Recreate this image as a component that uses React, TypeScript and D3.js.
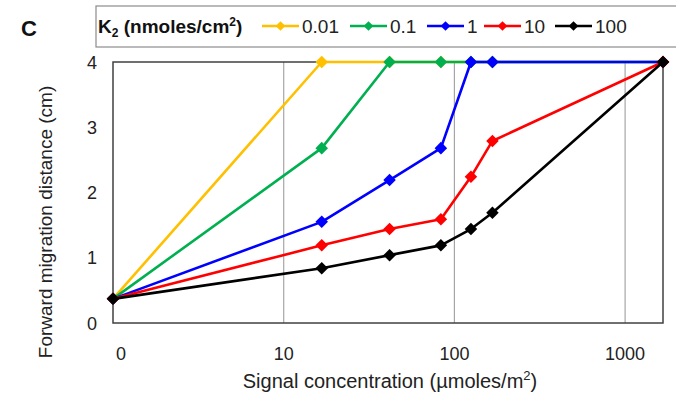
import * as d3 from "d3";

// signal concentration 0 is drawn at 1 on the log axis
const concentrations = [0, 16.7, 41.7, 83.3, 125, 167, 1667];
const seriesNames = ["0.01", "0.1", "1", "10", "100"];
const seriesColors = ["#FFC000", "#00B050", "#0000FF", "#FF0000", "#000000"];
const k001 = [0.37, 4, 4, 4, 4, 4, 4];
const k01 = [0.37, 2.68, 4, 4, 4, 4, 4];
const k1 = [0.37, 1.55, 2.19, 2.68, 4, 4, 4];
const k10 = [0.37, 1.19, 1.44, 1.59, 2.24, 2.79, 4];
const k100 = [0.37, 0.84, 1.04, 1.19, 1.44, 1.69, 4];
const seriesValues = [k001, k01, k1, k10, k100];
const xTickValues = [1, 10, 100, 1000];
const xTickLabels = ["0", "10", "100", "1000"];
const yTicks = [0, 1, 2, 3, 4];

const W = 676;
const H = 396;
const plot = { left: 113, right: 663, top: 62, bottom: 323 };
const font = "'Liberation Sans', Arial, sans-serif";

const diamond = d3.symbol().type(d3.symbolDiamond2).size(100);
const legendDiamond = d3.symbol().type(d3.symbolDiamond2).size(60);

const App = () => {
  const x = d3
    .scaleLog()
    .domain([1, 1667])
    .range([plot.left, plot.right]);
  const y = d3.scaleLinear().domain([0, 4]).range([plot.bottom, plot.top]);
  const xv = (c: number) => x(c === 0 ? 1 : c);

  const line = d3
    .line<number>()
    .x((_, i) => xv(concentrations[i]))
    .y((d) => y(d));

  // legend line start positions
  const legendItems = [262, 350, 427, 484, 555];

  return (
    <svg width={W} height={H} style={{ position: "absolute", left: 0, top: 0 }}>
      <rect width={W} height={H} fill="#fff" />
      <text x={21} y={36} fontFamily={font} fontWeight="bold" fontSize={22} fill="#111">
        C
      </text>

      {/* legend box */}
      <rect x={96} y={6} width={600} height={41} fill="#fff" stroke="#8c8c8c" strokeWidth={1.2} />
      <text x={98} y={33} fontFamily={font} fontWeight="bold" fontSize={19} fill="#111">
        K<tspan fontSize={12} dy={4}>2</tspan>
        <tspan dy={-4}> (nmoles/cm</tspan>
        <tspan fontSize={12} dy={-7}>2</tspan>
        <tspan dy={7}>)</tspan>
      </text>
      {seriesNames.map((n, i) => {
        const lx = legendItems[i];
        return (
          <g key={n}>
            <line x1={lx} x2={lx + 37} y1={26} y2={26} stroke={seriesColors[i]} strokeWidth={2.5} />
            <path d={legendDiamond()!} transform={`translate(${lx + 18.5},26)`} fill={seriesColors[i]} />
            <text x={lx + 40} y={33} fontFamily={font} fontSize={19} fill="#222">
              {n}
            </text>
          </g>
        );
      })}

      {/* grid */}
      {xTickValues.slice(1).map((t) => (
        <line key={t} x1={x(t)} x2={x(t)} y1={plot.top} y2={plot.bottom} stroke="#a6a6a6" strokeWidth={1.2} />
      ))}
      <rect
        x={plot.left}
        y={plot.top}
        width={plot.right - plot.left}
        height={plot.bottom - plot.top}
        fill="none"
        stroke="#404040"
        strokeWidth={1.5}
      />

      {/* y ticks */}
      {yTicks.map((t) => (
        <text key={t} x={97} y={y(t) + 6.5} textAnchor="end" fontFamily={font} fontSize={18} fill="#222">
          {t}
        </text>
      ))}
      {/* x ticks */}
      {xTickValues.map((t, i) => (
        <text
          key={t}
          x={x(t) + (i === 0 ? 8 : 0)}
          y={360}
          textAnchor="middle"
          fontFamily={font}
          fontSize={18}
          fill="#222"
        >
          {xTickLabels[i]}
        </text>
      ))}

      {/* series */}
      {seriesValues.map((vals, si) => (
        <g key={si}>
          <path d={line(vals)!} fill="none" stroke={seriesColors[si]} strokeWidth={2.6} strokeLinejoin="round" />
          {vals.map((v, i) => (
            <path
              key={i}
              d={diamond()!}
              transform={`translate(${xv(concentrations[i])},${y(v)})`}
              fill={seriesColors[si]}
            />
          ))}
        </g>
      ))}

      <text x={390} y={388} textAnchor="middle" fontFamily={font} fontSize={20} fill="#222">
        Signal concentration (µmoles/m<tspan fontSize={13} dy={-8}>2</tspan>
        <tspan dy={8}>)</tspan>
      </text>
      <text
        transform={`translate(52,222) rotate(-90)`}
        textAnchor="middle"
        fontFamily={font}
        fontSize={19}
        fill="#222"
      >
        Forward migration distance (cm)
      </text>
    </svg>
  );
};

export default App;
